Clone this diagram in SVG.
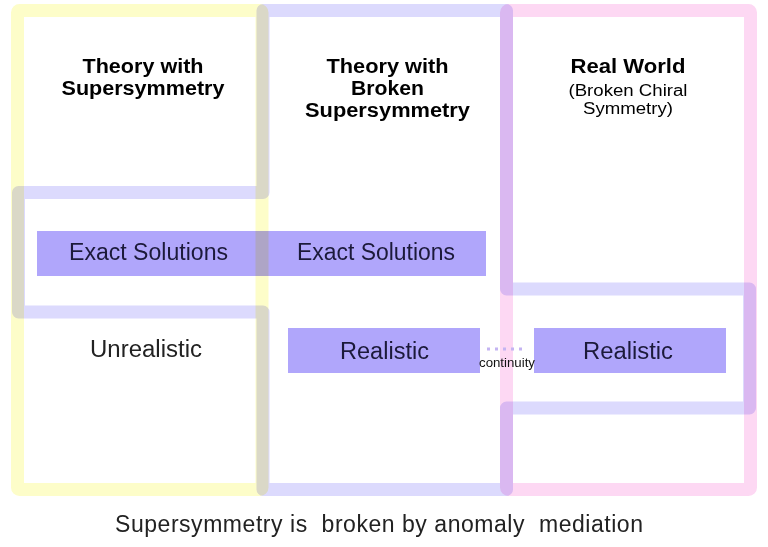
<svg xmlns="http://www.w3.org/2000/svg" width="768" height="547" viewBox="0 0 768 547">
  <style>
    .frame { fill: none; stroke-width: 13; mix-blend-mode: multiply; stroke-linejoin: round; }
    .yellow { stroke: #fdfdc9; }
    .lav { stroke: #dcdafd; }
    .pink { stroke: #fdd8f3; }
    .bar { fill: #b0a6fb; mix-blend-mode: multiply; }
    .hd { font-family: "Liberation Sans", Arial, Helvetica, sans-serif; font-weight: bold; font-size: 19.5px; fill: #000; text-anchor: middle; }
    .sub { font-family: "Liberation Sans", Arial, Helvetica, sans-serif; font-size: 16px; fill: #000; text-anchor: middle; }
    .lbl { font-family: "Liberation Sans", Arial, Helvetica, sans-serif; font-size: 23px; fill: #1c1a3a; text-anchor: middle; }
    .plain { font-family: "Liberation Sans", Arial, Helvetica, sans-serif; font-size: 23px; fill: #222; text-anchor: middle; }
    .small { font-family: "Liberation Sans", Arial, Helvetica, sans-serif; font-size: 13px; fill: #111; text-anchor: middle; }
    .cap { font-family: "Liberation Sans", Arial, Helvetica, sans-serif; font-size: 23px; fill: #222; white-space: pre; }
  </style>
  <rect x="0" y="0" width="768" height="547" fill="#ffffff"/>

  <g id="theory-with-supersymmetry">
    <rect class="frame yellow" x="17.5" y="10.5" width="244.5" height="479" rx="2"/>
    <text class="hd" x="143" y="73" textLength="121" lengthAdjust="spacingAndGlyphs">Theory with</text>
    <text class="hd" x="143" y="95" textLength="163" lengthAdjust="spacingAndGlyphs">Supersymmetry</text>
  </g>

  <g id="theory-with-broken-supersymmetry">
    <polygon class="frame lav" points="263,10.5 506.5,10.5 506.5,289 749.5,289 749.5,408 506.5,408 506.5,489.5 263,489.5 263,312 18.5,312 18.5,192.5 263,192.5"/>
    <text class="hd" x="387.5" y="73" textLength="122" lengthAdjust="spacingAndGlyphs">Theory with</text>
    <text class="hd" x="387.5" y="95" textLength="73" lengthAdjust="spacingAndGlyphs">Broken</text>
    <text class="hd" x="387.5" y="117" textLength="165" lengthAdjust="spacingAndGlyphs">Supersymmetry</text>
  </g>

  <g id="real-world">
    <rect class="frame pink" x="506.5" y="10.5" width="244" height="479" rx="2"/>
    <text class="hd" x="628" y="73" textLength="115" lengthAdjust="spacingAndGlyphs">Real World</text>
    <text class="sub" x="628" y="96" textLength="119" lengthAdjust="spacingAndGlyphs">(Broken Chiral</text>
    <text class="sub" x="628" y="114" textLength="90" lengthAdjust="spacingAndGlyphs">Symmetry)</text>
  </g>

  <g id="exact-solutions-1">
    <rect class="bar" x="37" y="231" width="225" height="45"/>
    <text class="lbl" x="148.5" y="260" textLength="159" lengthAdjust="spacingAndGlyphs">Exact Solutions</text>
  </g>

  <g id="exact-solutions-2">
    <rect class="bar" x="262" y="231" width="224" height="45"/>
    <text class="lbl" x="376" y="260" textLength="158" lengthAdjust="spacingAndGlyphs">Exact Solutions</text>
  </g>

  <g id="unrealistic">
    <text class="plain" x="146" y="357" textLength="112" lengthAdjust="spacingAndGlyphs">Unrealistic</text>
  </g>

  <g id="realistic-1">
    <rect class="bar" x="288" y="328" width="192" height="45"/>
    <text class="lbl" x="384.5" y="359" textLength="89" lengthAdjust="spacingAndGlyphs">Realistic</text>
  </g>

  <g id="realistic-2">
    <rect class="bar" x="534" y="328" width="192" height="45"/>
    <text class="lbl" x="628" y="359" textLength="90" lengthAdjust="spacingAndGlyphs">Realistic</text>
  </g>

  <g id="connectors">
    <line x1="487" y1="349" x2="526" y2="349" stroke="#c4b4f2" stroke-width="3" stroke-dasharray="3,5"/>
    <text class="small" x="507" y="367" textLength="56" lengthAdjust="spacingAndGlyphs">continuity</text>
  </g>

  <text class="cap" x="115" y="532" textLength="528" lengthAdjust="spacing">Supersymmetry is  broken by anomaly  mediation</text>
</svg>
